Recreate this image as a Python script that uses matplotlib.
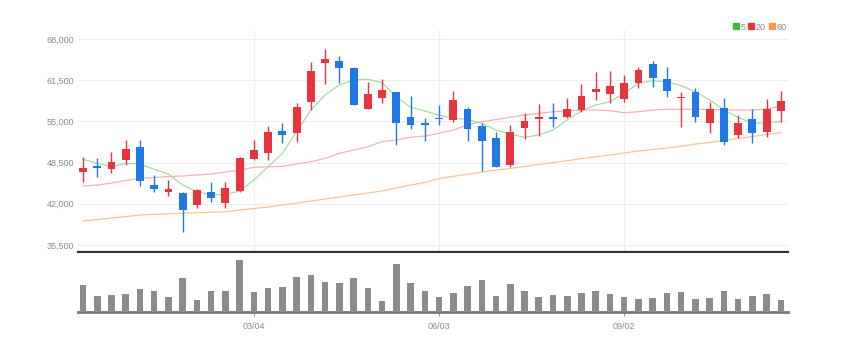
import matplotlib
matplotlib.use("Agg")
import matplotlib.pyplot as plt
from matplotlib.lines import Line2D
import numpy as np
import pandas as pd

# ---------------- data (weekly candles) ----------------
dates = pd.date_range("2023-12-11", periods=50, freq="7D")

opens = [47065, 48012, 47433, 48906, 50905, 44961, 43857, 43751, 41805, 43804,
         42173, 44014, 49064, 49958, 53482, 53114, 58111, 64160, 64581, 63476,
         57007, 58637, 59584, 55639, 54745, 55586, 55218, 56954, 54324, 52325,
         48117, 53903, 55376, 55692, 55744, 56796, 59636, 59268, 58532, 61004,
         64055, 61688, 58637, 59689, 54692, 57059, 52851, 55323, 53272, 56638]
closes = [47591, 47696, 48643, 50642, 45645, 44383, 44330, 41016, 44172, 42857,
          44435, 49274, 50484, 53272, 52851, 57217, 62950, 64844, 63476, 57585,
          59268, 59952, 54797, 54429, 54429, 55323, 58374, 53798, 51904, 47854,
          53377, 55113, 55639, 55429, 56954, 59058, 60057, 60636, 61004, 63108,
          61898, 59847, 58900, 55744, 56954, 51799, 54797, 53114, 56901, 58269]
highs = [49432, 49169, 50221, 52062, 52062, 46539, 45750, 43857, 44277, 45487,
         45487, 49432, 52062, 54271, 54692, 57953, 64318, 66369, 65317, 63529,
         61162, 61688, 59689, 59058, 55481, 57585, 59794, 57322, 54692, 53377,
         54429, 56270, 57743, 57848, 58637, 60846, 62740, 63003, 62319, 63634,
         64581, 63529, 59584, 60215, 58111, 58742, 56007, 56901, 58532, 59794]
lows = [45487, 46276, 46907, 48117, 44803, 43910, 43278, 37597, 41384, 42331,
        41279, 43909, 48906, 48906, 51536, 51694, 56796, 60846, 61004, 57533,
        56901, 57848, 51273, 53745, 51904, 54429, 54955, 51904, 47170, 47749,
        47854, 52167, 52693, 54166, 55481, 56533, 58374, 57953, 58111, 60215,
        60373, 58900, 54061, 54850, 53114, 51273, 52325, 51536, 52588, 54955]

ma5 = [49017, 48385, 47849, 48385, 48275, 47439, 46697, 44961, 43904, 43383,
       43493, 44014, 45750, 47849, 49964, 53372, 56796, 59163, 60741, 61530,
       61641, 61104, 58895, 57222, 56638, 56007, 55486, 55329, 54698, 53640,
       53009, 52488, 52851, 53640, 55218, 56638, 57585, 58106, 59431, 61010,
       61420, 61262, 60631, 59684, 58374, 56796, 55644, 54698, 54792, 54950]
ma20 = [44803, 44961, 45277, 45672, 46019, 46145, 46303, 46381, 46539, 46697,
        47013, 47328, 47754, 47849, 47881, 48275, 48637, 49174, 49964, 50484,
        51005, 51794, 52062, 52488, 52693, 53119, 53640, 54429, 54950, 55297,
        55644, 56007, 56275, 56528, 56638, 56796, 56796, 56686, 56370, 56528,
        56796, 56907, 56907, 56907, 56907, 56796, 56796, 56796, 56954, 57427]
ma60 = [39280, 39517, 39754, 39990, 40227, 40338, 40433, 40511, 40590, 40653,
        40732, 41016, 41253, 41490, 41806, 42121, 42437, 42752, 43068, 43384,
        43699, 44015, 44488, 44962, 45357, 45988, 46335, 46650, 47013, 47329,
        47566, 47881, 48197, 48513, 48797, 49143, 49412, 49696, 50011, 50327,
        50563, 50800, 51068, 51431, 51668, 51983, 52299, 52615, 52930, 53216]

volume = [82, 48, 50, 54, 68, 64, 45, 103, 35, 64,
          62, 155, 59, 72, 74, 106, 112, 91, 86, 101,
          72, 34, 144, 88, 62, 44, 57, 79, 96, 48,
          83, 62, 45, 50, 49, 57, 64, 54, 45, 40,
          42, 57, 59, 40, 42, 64, 39, 48, 55, 35]

y_ticks = [35500, 42000, 48500, 55000, 61500, 68000]
x_tick_labels = ["03/04", "06/03", "09/02"]
ma_labels = ["5", "20", "60"]

# ---------------- style ----------------
UP = "#e8343c"
DOWN = "#1f78e6"
MA_COLORS = ["#9edc9a", "#f7aeb2", "#f9c194"]
LEG_COLORS = ["#3cba3c", "#e8343c", "#f39a4a"]
GRID = "#eeeeee"
TXT = "#8a8a8a"
FONT = ["Liberation Sans", "DejaVu Sans"]
plt.rcParams["font.family"] = FONT

W, H = 843, 351
fig = plt.figure(figsize=(W / 100, H / 100), dpi=100)

x = np.arange(len(dates))
xlim = (-0.35, 49.5)
ax_l, ax_w = 78 / W, (788 - 78) / W

ax = fig.add_axes([ax_l, 1 - 252 / H, ax_w, (252 - 30) / H])
axv = fig.add_axes([ax_l, 1 - 312 / H, ax_w, (312 - 253) / H])

tick_idx = [i for i, d in enumerate(dates) if d.strftime("%m/%d") in x_tick_labels]

# price panel
o = np.array(opens); c = np.array(closes)
colors = [UP if cc >= oo else DOWN for oo, cc in zip(o, c)]
body_bottom = np.minimum(o, c)
body_h = np.maximum(np.abs(c - o), 250)
ax.vlines(x, lows, highs, colors=colors, linewidth=1.0, zorder=3)
ax.bar(x, body_h, bottom=body_bottom, width=0.55, color=colors, zorder=4, linewidth=0)

for vals, col in zip([ma60, ma20, ma5], MA_COLORS[::-1]):
    ax.plot(x, vals, color=col, linewidth=0.85, zorder=2)

ax.set_xlim(*xlim)
ax.set_ylim(34395, 69420)
ax.set_yticks(y_ticks)
ax.set_yticklabels([f"{v:,}" for v in y_ticks])
ax.set_xticks(tick_idx)
ax.tick_params(axis="x", length=0, labelbottom=False)
ax.tick_params(axis="y", length=0, labelsize=6.5, labelcolor=TXT, pad=3)
ax.grid(True, color=GRID, linewidth=0.8, zorder=0)
ax.set_axisbelow(True)
for s in ["top", "right", "left"]:
    ax.spines[s].set_visible(False)
ax.spines["bottom"].set_color("#333333")
ax.spines["bottom"].set_linewidth(1.6)

# legend
handles = [Line2D([], [], marker="s", linestyle="none", color=col, markersize=4.0)
           for col in LEG_COLORS]
fig.legend(handles, ma_labels, loc="upper right", bbox_to_anchor=(791 / W, 1 - 18 / H),
           ncol=3, frameon=False, fontsize=6.5, labelcolor=TXT, handlelength=0.8,
           handletextpad=0.1, columnspacing=0.25, borderpad=0)

# volume panel
axv.bar(x, volume, width=0.46, color="#8c8c8c", linewidth=0, zorder=3)
axv.set_xlim(*xlim)
axv.set_ylim(0, 177)
axv.set_yticks([])
axv.set_xticks(tick_idx)
axv.set_xticklabels(x_tick_labels)
axv.tick_params(axis="x", length=3, color="#999999", labelsize=6.5, labelcolor=TXT, pad=4)
for s in ["top", "right", "left"]:
    axv.spines[s].set_visible(False)
axv.spines["bottom"].set_color("#777777")
axv.spines["bottom"].set_linewidth(2.0)

fig.savefig("out.png", dpi=100)
